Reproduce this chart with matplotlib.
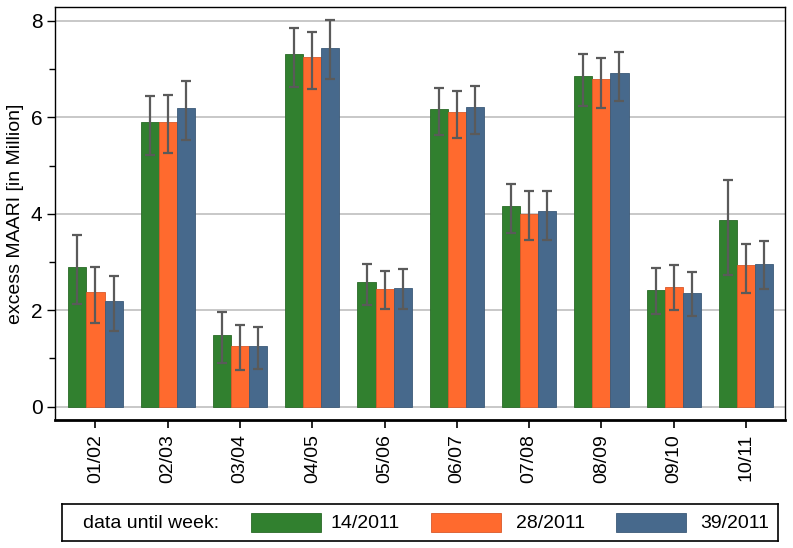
import matplotlib
matplotlib.use("Agg")
import matplotlib.pyplot as plt
from matplotlib.patches import Rectangle
import numpy as np

plt.rcParams['font.family'] = ['Liberation Sans', 'DejaVu Sans']

seasons = ["01/02", "02/03", "03/04", "04/05", "05/06", "06/07", "07/08", "08/09", "09/10", "10/11"]
series_labels = ["14/2011", "28/2011", "39/2011"]
colors = ["#31802F", "#FF6A2E", "#47698C"]
edge_colors = ["#2A6A28", "#D9592A", "#3C5A78"]

w14 = [2.90, 5.91, 1.48, 7.32, 2.59, 6.17, 4.16, 6.85, 2.42, 3.87]
w14_lo = [2.14, 5.23, 0.90, 6.64, 2.11, 5.64, 3.61, 6.24, 1.93, 2.73]
w14_hi = [3.56, 6.44, 1.96, 7.85, 2.96, 6.61, 4.61, 7.32, 2.87, 4.70]

w28 = [2.38, 5.91, 1.26, 7.26, 2.45, 6.11, 4.00, 6.79, 2.48, 2.93]
w28_lo = [1.74, 5.26, 0.76, 6.58, 2.02, 5.57, 3.45, 6.20, 2.00, 2.36]
w28_hi = [2.89, 6.47, 1.70, 7.78, 2.82, 6.55, 4.47, 7.24, 2.93, 3.37]

w39 = [2.19, 6.20, 1.26, 7.44, 2.46, 6.22, 4.05, 6.92, 2.35, 2.95]
w39_lo = [1.57, 5.54, 0.78, 6.79, 2.02, 5.66, 3.46, 6.35, 1.88, 2.45]
w39_hi = [2.71, 6.76, 1.66, 8.02, 2.85, 6.66, 4.48, 7.35, 2.79, 3.44]

values = [w14, w28, w39]
lows = [w14_lo, w28_lo, w39_lo]
highs = [w14_hi, w28_hi, w39_hi]

fig = plt.figure(figsize=(7.93, 5.48), dpi=100)
ax = fig.add_axes([55/793, 1-420/548, (785-55)/793, (420-7)/548])

x = np.arange(len(seasons))
bw = 0.25
for i in range(3):
    v = np.array(values[i])
    lo = np.array(lows[i])
    hi = np.array(highs[i])
    pos = x + (i - 1) * bw
    ax.bar(pos, v, width=bw, color=colors[i], edgecolor=edge_colors[i], linewidth=0.6, zorder=3)
    ax.errorbar(pos, v, yerr=[v - lo, hi - v], fmt='none', ecolor='#5A5A5A',
                elinewidth=1.6, capsize=3.5, capthick=1.6, zorder=4)

ax.set_xlim(-0.56, 9.54)
ax.set_ylim(-0.276, 8.29)
ax.set_yticks([0, 2, 4, 6, 8])
ax.set_yticks([1, 3, 5, 7], minor=True)
ax.set_xticks(x)
ax.set_xticklabels(seasons, rotation=90, fontsize=14)
ax.tick_params(axis='y', labelsize=15, length=6, width=1, pad=3)
ax.tick_params(axis='y', which='minor', length=4, width=1)
ax.tick_params(axis='x', length=6, width=1.2, pad=4)
ax.yaxis.grid(True, which='major', color='#C4C4C4', linewidth=1.3, zorder=0)
ax.set_axisbelow(True)
for s in ['top', 'right', 'left']:
    ax.spines[s].set_linewidth(1.0)
ax.spines['bottom'].set_linewidth(2.0)
ax.set_ylabel("excess MAARI [in Million]", fontsize=14, labelpad=5)

# legend box
lax = fig.add_axes([62/793, 1-541/548, (778-62)/793, (541-504)/548])
lax.set_xlim(62, 778)
lax.set_ylim(541, 504)
lax.set_xticks([])
lax.set_yticks([])
for s in lax.spines.values():
    s.set_linewidth(1.2)
lax.text(83, 523, "data until week:", fontsize=14, va='center', ha='left')
patch_x = [251, 431, 616]
text_x = [331, 516, 700]
for i in range(3):
    lax.add_patch(Rectangle((patch_x[i], 513), 70, 19, facecolor=colors[i],
                            edgecolor=edge_colors[i], linewidth=0.6))
    lax.text(text_x[i], 523, series_labels[i], fontsize=14, va='center', ha='left')

fig.savefig("out.png", dpi=100)
